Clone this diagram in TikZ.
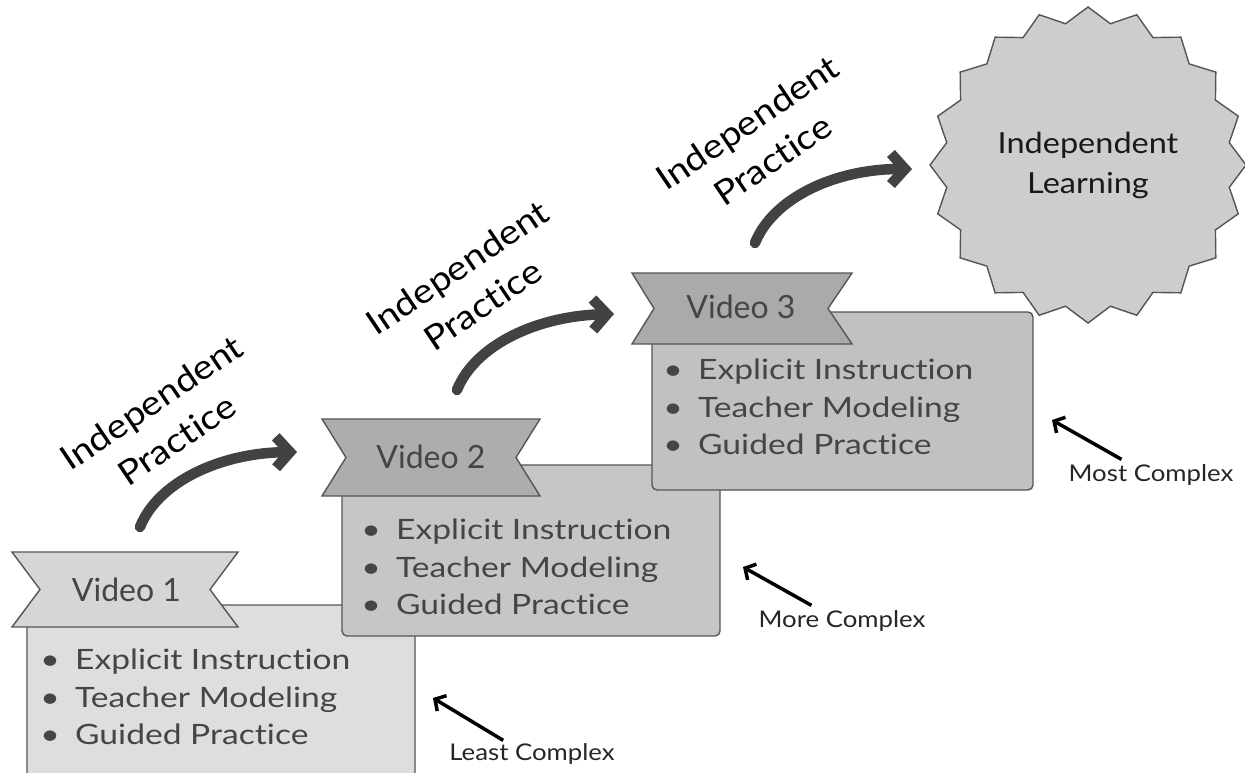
\documentclass[tikz,border=0pt]{standalone}
\usepackage{fontspec}
\setmainfont[Ligatures=NoCommon]{Lato}
\newfontfamily\mf[FakeStretch=1.12,Ligatures=NoCommon]{Lato}
\newfontfamily\itf[FakeStretch=1.2,Ligatures=NoCommon]{Lato}
\newfontfamily\vf[Ligatures=NoCommon]{Lato}
\usetikzlibrary{arrows.meta,shapes.geometric,calc}
\definecolor{edgec}{HTML}{555555}
\definecolor{txtc}{HTML}{454545}
\definecolor{arrowc}{HTML}{424242}
\definecolor{boxa}{HTML}{DEDEDE}
\definecolor{riba}{HTML}{D6D6D6}
\definecolor{boxb}{HTML}{C6C6C6}
\definecolor{ribb}{HTML}{ADADAD}
\definecolor{boxc}{HTML}{C1C1C1}
\definecolor{ribc}{HTML}{AAAAAA}
\definecolor{starc}{HTML}{CDCDCD}
\begin{document}
\begin{tikzpicture}[x=1pt,y=-1pt,
  box/.style={draw=edgec, line width=1.4pt, rounded corners=5pt},
  ribbonshape/.style={draw=edgec, line width=1.4pt, line join=miter},
  vlabel/.style={font=\vf\fontsize{32}{38}\selectfont, text=txtc, inner sep=0},
  items/.style={font=\itf\fontsize{28}{37.5}\selectfont, text=txtc, align=left, anchor=west, inner sep=0},
  practice/.style={font=\mf\fontsize{34}{45}\selectfont, align=center, rotate=34, inner sep=0, text=black},
  bigarrow/.style={draw=arrowc, line width=10.5pt, line cap=round, -{Straight Barb[length=14pt,width=31pt]}},
  cxarrow/.style={draw=black, line width=3.5pt, -{Straight Barb[length=8pt,width=18pt]}},
  cxlabel/.style={font=\mf\fontsize{23}{27}\selectfont, text=black!85, inner sep=0},
  starnode/.style={star, star points=20, star point ratio=1.105, minimum size=316pt, inner sep=0,
     draw=edgec, line width=1.4pt, fill=starc, font=\mf\fontsize{29}{40}\selectfont, align=center, text=black!90}
]
\clip (0,0) rectangle (1245,773);
% ---- Video 1
\draw[box, fill=boxa] (27,605) rectangle (415,800);
\draw[ribbonshape, fill=riba] (12,552) -- (238,552) -- (210,589.5) -- (238,627) -- (12,627) -- (40,589.5) -- cycle;
\node[vlabel] (v1) at (126.5,590) {Video 1};
\node[items] (l1) at (50,697) {\makebox[0pt]{•}\hspace{25pt}Explicit Instruction\\\makebox[0pt]{•}\hspace{25pt}Teacher Modeling\\\makebox[0pt]{•}\hspace{25pt}Guided Practice};
% ---- Video 2
\draw[box, fill=boxb] (342,465) rectangle (720,636);
\draw[ribbonshape, fill=ribb] (322,419) -- (540,419) -- (516,457.5) -- (540,496) -- (322,496) -- (346,457.5) -- cycle;
\node[vlabel] (v2) at (431,457) {Video 2};
\node[items] (l2) at (371,567) {\makebox[0pt]{•}\hspace{25pt}Explicit Instruction\\\makebox[0pt]{•}\hspace{25pt}Teacher Modeling\\\makebox[0pt]{•}\hspace{25pt}Guided Practice};
% ---- Video 3
\draw[box, fill=boxc] (652,312) rectangle (1033,490);
\draw[ribbonshape, fill=ribc] (632,273) -- (852,273) -- (828,308.5) -- (852,344) -- (632,344) -- (654,308.5) -- cycle;
\node[vlabel] (v3) at (741,307) {Video 3};
\node[items] (l3) at (673,407) {\makebox[0pt]{•}\hspace{25pt}Explicit Instruction\\\makebox[0pt]{•}\hspace{25pt}Teacher Modeling\\\makebox[0pt]{•}\hspace{25pt}Guided Practice};
% ---- star
\node[starnode] (il) at (1088,165) {Independent\\Learning};
% ---- practice labels and arrows
\node[practice] (p1) at (164,421) {Independent\\Practice};
\node[practice] (p2) at (470,286) {Independent\\Practice};
\node[practice] (p3) at (760,141) {Independent\\Practice};
\coordinate (a1s) at (140,527);
\coordinate (a1e) at (297,452);
\coordinate (a2s) at (457,390);
\coordinate (a2e) at (614,314);
\coordinate (a3s) at (755,243);
\coordinate (a3e) at (912,169);
\draw[bigarrow] (a1s) .. controls ($(a1s)+(18,-45)$) and ($(a1s)+(80,-74)$) .. (a1e);
\draw[bigarrow] (a2s) .. controls ($(a2s)+(18,-45)$) and ($(a2s)+(80,-74)$) .. (a2e);
\draw[bigarrow] (a3s) .. controls ($(a3s)+(18,-45)$) and ($(a3s)+(80,-74)$) .. (a3e);
% ---- complexity labels
\node[cxlabel] (c1) at (532,754) {Least Complex};
\node[cxlabel] (c2) at (842,621) {More Complex};
\node[cxlabel] (c3) at (1151,475) {Most Complex};
\coordinate (c1t) at (433,698);
\coordinate (c2t) at (743,567);
\coordinate (c3t) at (1052,420);
\draw[cxarrow] (c1.north west) ++(54,-3) coordinate (c1s) -- (c1t);
\draw[cxarrow] (c2.north west) ++(53,-5) coordinate (c2s) -- (c2t);
\draw[cxarrow] (c3.north west) ++(53,-5) coordinate (c3s) -- (c3t);
\end{tikzpicture}
\end{document}
